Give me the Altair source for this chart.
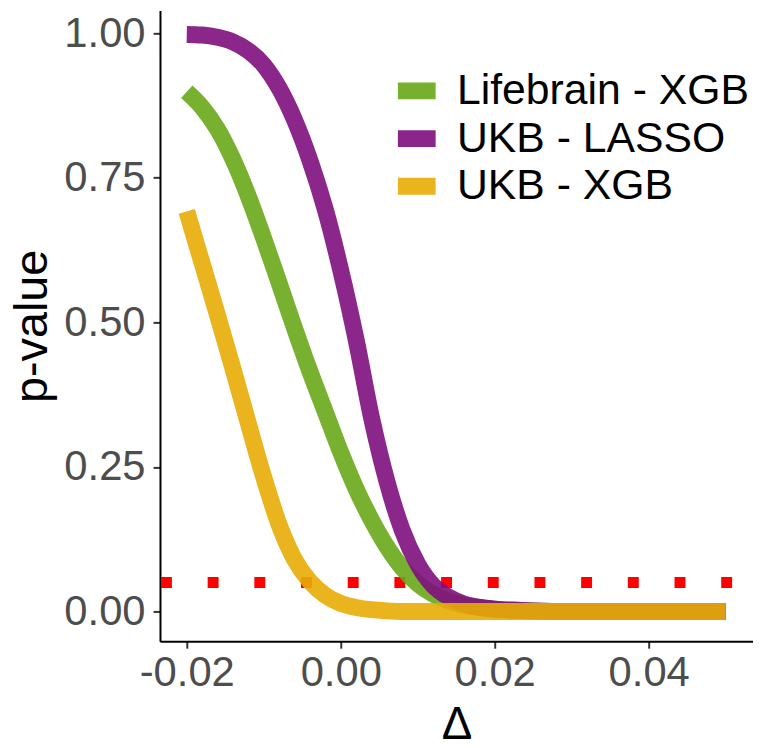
import altair as alt
import pandas as pd

# ---- data ----
models = ["Lifebrain - XGB", "UKB - LASSO", "UKB - XGB"]
colors = ["#69A819", "#7E0E7D", "#E8AC05"]

delta_lifebrain = [-0.020, -0.018, -0.016, -0.014, -0.012, -0.010, -0.008, -0.006,
                   -0.004, -0.002, 0.000, 0.002, 0.004, 0.006, 0.008, 0.010,
                   0.012, 0.014, 0.016, 0.018, 0.020, 0.025, 0.030, 0.050]
p_lifebrain = [0.899, 0.872, 0.834, 0.782, 0.718, 0.645, 0.568, 0.490,
               0.415, 0.345, 0.275, 0.212, 0.158, 0.112, 0.075, 0.048,
               0.030, 0.018, 0.011, 0.007, 0.004, 0.001, 0.000, 0.000]

delta_lasso = [-0.020, -0.018, -0.016, -0.014, -0.012, -0.010, -0.008, -0.006,
               -0.004, -0.002, 0.000, 0.002, 0.004, 0.006, 0.008, 0.010,
               0.012, 0.014, 0.016, 0.018, 0.020, 0.025, 0.030, 0.050]
p_lasso = [0.998, 0.997, 0.993, 0.985, 0.970, 0.945, 0.905, 0.850,
           0.780, 0.695, 0.590, 0.470, 0.335, 0.225, 0.140, 0.082,
           0.045, 0.025, 0.013, 0.007, 0.004, 0.001, 0.000, 0.000]

delta_ukb_xgb = [-0.020, -0.018, -0.016, -0.014, -0.012, -0.010, -0.008, -0.006,
                 -0.004, -0.002, 0.000, 0.002, 0.004, 0.006, 0.008, 0.050]
p_ukb_xgb = [0.692, 0.602, 0.512, 0.420, 0.325, 0.232, 0.150, 0.090,
             0.052, 0.028, 0.014, 0.007, 0.003, 0.001, 0.000, 0.000]

threshold = [0.05]

x_ticks = [-0.02, 0.00, 0.02, 0.04]
y_ticks = [0.00, 0.25, 0.50, 0.75, 1.00]

rows = []
for name, xs, ps in [(models[0], delta_lifebrain, p_lifebrain),
                     (models[1], delta_lasso, p_lasso),
                     (models[2], delta_ukb_xgb, p_ukb_xgb)]:
    for xv, pv in zip(xs, ps):
        rows.append({"model": name, "delta": xv, "p": pv})
df = pd.DataFrame(rows)
df_thr = pd.DataFrame({"p": threshold})

FONT = "Liberation Sans"

x_enc = alt.X(
    "delta:Q",
    scale=alt.Scale(domain=[-0.02348, 0.05355], nice=False, zero=False),
    axis=alt.Axis(
        values=x_ticks, title="Δ", labelFlush=False, labelOverlap=False,
        labelExpr="datum.value < 0 ? '-' + format(abs(datum.value), '.2f') : format(datum.value, '.2f')",
        labelPadding=5, titlePadding=9, titleFontSize=46,
    ),
)
y_enc = alt.Y(
    "p:Q",
    scale=alt.Scale(domain=[-0.0515, 1.0395], nice=False, zero=False),
    axis=alt.Axis(values=y_ticks, format=".2f", title="p-value", labelFlush=False,
                  labelOverlap=False, labelPadding=8, titlePadding=7, titleFontSize=47),
)

rule = alt.Chart(df_thr).mark_rule(
    color="#FF0000", strokeWidth=11, strokeDash=[11, 36], strokeDashOffset=26,
    strokeCap="butt"
).encode(y=y_enc)

lines = alt.Chart(df).mark_line(
    strokeWidth=17, opacity=0.9, interpolate="monotone", strokeCap="butt", strokeJoin="round"
).encode(
    x=x_enc,
    y=y_enc,
    color=alt.Color(
        "model:N",
        scale=alt.Scale(domain=models, range=colors),
        legend=alt.Legend(
            title=None, orient="none", legendX=231, legendY=57,
            symbolType="stroke", symbolSize=1444, symbolStrokeWidth=17, symbolOpacity=0.9,
            labelFontSize=43, labelFont=FONT, labelColor="black", labelOffset=13,
            clipHeight=48, rowPadding=0, padding=0, labelLimit=400,
        ),
    ),
)

chart = alt.layer(rule, lines).properties(
    width=597, height=635,
    padding={"left": 153, "top": 0, "right": 0, "bottom": 105},
    autosize=alt.AutoSizeParams(type="none"),
).configure_view(stroke=None).configure_axis(
    grid=False,
    labelFont=FONT, labelFontSize=42, labelColor="#4D4D4D",
    titleFont=FONT, titleColor="black", titleFontWeight="normal",
    tickSize=7, tickWidth=2, tickColor="#333333",
    domainColor="black", domainWidth=2,
)

chart.save("out.html", embed_options={"renderer": "svg", "actions": False})
